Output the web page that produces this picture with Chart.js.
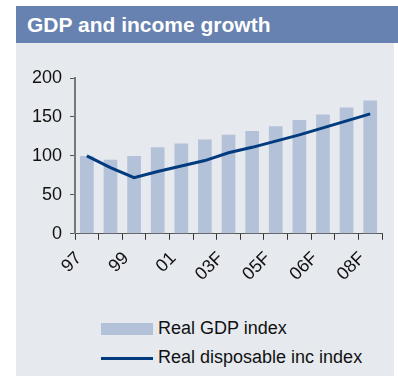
<!DOCTYPE html>
<html>
<head>
    <meta charset="UTF-8">
    <title>GDP and income growth</title>
    <script src="https://cdn.jsdelivr.net/npm/chart.js"></script>
    <style>
        body {
            margin: 0;
            background: #ffffff;
            font-family: "Liberation Sans", Arial, sans-serif;
        }

        .wrap {
            position: relative;
            width: 398px;
            height: 376px;
        }

        .title {
            position: absolute;
            left: 16px;
            top: 6px;
            width: 382px;
            height: 37px;
            background: #6781b1;
            color: #fff;
            font-weight: bold;
            font-size: 21px;
            line-height: 37px;
            padding-left: 11px;
            box-sizing: border-box;
        }

        .panel {
            position: absolute;
            left: 16px;
            top: 43px;
            width: 378px;
            height: 333px;
            background: #e6e9ee;
        }

        .chart-box {
            position: absolute;
            left: 0;
            top: 0;
            width: 378px;
            height: 250px;
        }

        .legend-item {
            position: absolute;
            left: 85px;
            font-size: 18px;
            color: #111;
            height: 22px;
            line-height: 22px;
        }

        .swatch {
            display: inline-block;
            width: 52px;
            vertical-align: middle;
            margin-right: 5px;
        }
    </style>
</head>
<body>
    <div class="wrap">
        <div class="title">GDP and income growth</div>
        <div class="panel">
            <div class="chart-box"><canvas id="gdpChart"></canvas></div>
            <div class="legend-item" style="top: 274px;">
                <span class="swatch" style="height: 12px; background: #b4c2d9;"></span>Real GDP index
            </div>
            <div class="legend-item" style="top: 303px;">
                <span class="swatch" style="height: 3px; background: #003b7f;"></span>Real disposable inc index
            </div>
        </div>
    </div>

    <script>
        // categories (only every other one is labelled on the axis)
        var years = ['97', '98', '99', '00', '01', '02', '03F', '04F', '05F', '06F', '06F', '07F', '08F'];
        var gdpIndex = [100, 95, 100, 111, 116, 121, 127, 132, 138, 146, 153, 162, 171];
        var incomeIndex = [100, 85, 72, 80, 87, 94, 104, 111, 119, 127, 136, 145, 154];
        var yTicks = [0, 50, 100, 150, 200];

        var ctx = document.getElementById('gdpChart').getContext('2d');
        var gdpChart = new Chart(ctx, {
            type: 'bar',
            data: {
                labels: years,
                datasets: [{
                    type: 'line',
                    label: 'Real disposable inc index',
                    data: incomeIndex,
                    borderColor: '#003b7f',
                    borderWidth: 3,
                    pointRadius: 0,
                    tension: 0,
                    fill: false,
                    order: 0
                }, {
                    label: 'Real GDP index',
                    data: gdpIndex,
                    backgroundColor: '#b4c2d9',
                    barPercentage: 0.58,
                    categoryPercentage: 1,
                    order: 1
                }]
            },
            options: {
                responsive: true,
                maintainAspectRatio: false,
                animation: false,
                layout: {
                    padding: { top: 35, right: 12, left: 8, bottom: 0 }
                },
                plugins: {
                    legend: { display: false },
                    tooltip: { enabled: false }
                },
                scales: {
                    x: {
                        grid: {
                            display: true,
                            drawOnChartArea: false,
                            tickLength: 6,
                            color: '#333'
                        },
                        border: { color: '#555', width: 1 },
                        ticks: {
                            autoSkip: false,
                            minRotation: 45,
                            maxRotation: 45,
                            padding: 8,
                            labelOffset: -8,
                            color: '#111',
                            font: { family: 'Liberation Sans', size: 18 },
                            callback: function (val, i) {
                                return i % 2 === 0 ? years[i] : '';
                            }
                        }
                    },
                    y: {
                        min: yTicks[0],
                        max: yTicks[yTicks.length - 1],
                        afterBuildTicks: function (axis) {
                            axis.ticks = yTicks.map(function (v) { return { value: v }; });
                        },
                        grid: {
                            display: true,
                            drawOnChartArea: false,
                            tickLength: 5,
                            color: '#555'
                        },
                        border: { color: '#777', width: 2 },
                        ticks: {
                            color: '#111',
                            padding: 8,
                            font: { family: 'Liberation Sans', size: 18 }
                        }
                    }
                }
            }
        });
    </script>
</body>
</html>
